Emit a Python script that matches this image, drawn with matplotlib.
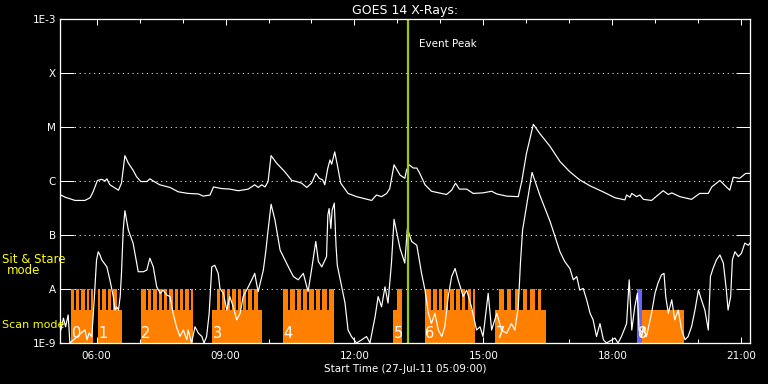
import matplotlib

matplotlib.use("Agg")
import matplotlib.pyplot as plt
import numpy as np
from matplotlib.ticker import FixedFormatter, FixedLocator, NullLocator

# GOES 14 X-ray flux, 27-Jul-2011. Time in hours UT, flux as log10(W m^-2).
long_t = [5.17, 5.27, 5.50, 5.73, 5.85, 5.92, 6.02, 6.12, 6.20, 6.24, 6.31, 6.51,
          6.58, 6.66, 6.74, 6.85, 6.93, 7.03, 7.17, 7.24, 7.36, 7.47, 7.71, 7.90,
          8.13, 8.37, 8.48, 8.64, 8.72, 8.91, 9.10, 9.30, 9.53, 9.68, 9.76, 9.84,
          9.92, 9.99, 10.06, 10.19, 10.38, 10.54, 10.65, 10.77, 10.89, 11.00, 11.10,
          11.18, 11.26, 11.31, 11.38, 11.43, 11.47, 11.54, 11.60, 11.68, 11.85, 12.05,
          12.40, 12.51, 12.63, 12.75, 12.82, 12.92, 13.06, 13.17, 13.21, 13.27, 13.37,
          13.45, 13.52, 13.64, 13.79, 14.14, 14.26, 14.35, 14.44, 14.61, 14.76, 14.99,
          15.19, 15.31, 15.54, 15.81, 15.89, 16.00, 16.16, 16.31, 16.55, 16.78, 17.01,
          17.24, 17.48, 17.78, 18.06, 18.29, 18.33, 18.41, 18.45, 18.56, 18.64, 18.72,
          18.91, 19.06, 19.18, 19.30, 19.38, 19.57, 19.84, 20.03, 20.23, 20.31, 20.50,
          20.65, 20.73, 20.81, 20.96, 21.10, 21.20]
long_logf = [-6.26, -6.30, -6.36, -6.36, -6.31, -6.20, -5.99, -5.97, -6.00, -5.96, -6.07,
             -6.17, -6.04, -5.53, -5.67, -5.80, -5.92, -6.01, -6.01, -5.96, -6.02, -6.07,
             -6.12, -6.20, -6.23, -6.24, -6.28, -6.26, -6.11, -6.14, -6.15, -6.18, -6.15,
             -6.07, -6.12, -6.07, -6.11, -6.01, -5.53, -5.67, -5.83, -5.99, -6.01, -6.04,
             -6.12, -6.04, -5.86, -5.95, -5.98, -6.07, -5.76, -5.61, -5.69, -5.46, -5.70,
             -6.04, -6.23, -6.29, -6.36, -6.26, -6.29, -6.23, -6.14, -5.70, -5.89, -5.95,
             -5.80, -5.70, -5.76, -5.76, -5.86, -6.07, -6.19, -6.25, -6.17, -6.04, -6.15,
             -6.15, -6.23, -6.22, -6.19, -6.24, -6.28, -6.29, -6.01, -5.49, -4.95, -5.12,
             -5.36, -5.64, -5.83, -5.98, -6.09, -6.20, -6.31, -6.35, -6.26, -6.30, -6.23,
             -6.29, -6.26, -6.34, -6.36, -6.26, -6.18, -6.25, -6.22, -6.29, -6.34, -6.23,
             -6.23, -6.11, -5.99, -6.11, -6.17, -5.93, -5.95, -5.86, -5.86]

short_t = [5.17, 5.23, 5.28, 5.34, 5.38, 5.65, 5.73, 5.78, 5.83, 5.89, 5.95, 6.00,
           6.04, 6.08, 6.12, 6.24, 6.31, 6.39, 6.43, 6.47, 6.51, 6.55, 6.58, 6.62,
           6.66, 6.74, 6.85, 6.97, 7.09, 7.17, 7.24, 7.32, 7.40, 7.48, 7.55, 7.63,
           7.71, 7.78, 7.86, 7.94, 8.02, 8.10, 8.13, 8.21, 8.29, 8.37, 8.45, 8.50,
           8.56, 8.62, 8.68, 8.75, 8.83, 8.87, 8.95, 9.03, 9.10, 9.18, 9.26, 9.34,
           9.41, 9.53, 9.61, 9.68, 9.72, 9.76, 9.88, 9.94, 9.99, 10.06, 10.15, 10.27,
           10.42, 10.50, 10.58, 10.69, 10.81, 10.92, 11.00, 11.10, 11.16, 11.24, 11.35,
           11.38, 11.41, 11.45, 11.48, 11.53, 11.57, 11.60, 11.78, 11.85, 11.93, 12.05,
           12.17, 12.28, 12.36, 12.48, 12.55, 12.63, 12.71, 12.78, 12.86, 12.92, 13.06,
           13.17, 13.23, 13.33, 13.45, 13.56, 13.64, 13.72, 13.79, 13.87, 13.95, 14.03,
           14.10, 14.18, 14.26, 14.34, 14.41, 14.53, 14.61, 14.72, 14.84, 14.92, 14.99,
           15.11, 15.19, 15.31, 15.42, 15.54, 15.65, 15.73, 15.81, 15.86, 15.91, 16.13,
           16.31, 16.55, 16.78, 16.89, 17.01, 17.09, 17.17, 17.24, 17.32, 17.40, 17.48,
           17.55, 17.63, 17.71, 17.79, 17.86, 18.06, 18.13, 18.21, 18.33, 18.39, 18.45,
           18.52, 18.58, 18.62, 18.68, 18.72, 18.79, 18.91, 18.99, 19.06, 19.14, 19.20,
           19.24, 19.30, 19.38, 19.45, 19.53, 19.61, 19.69, 19.76, 19.84, 19.92, 20.00,
           20.07, 20.15, 20.23, 20.28, 20.34, 20.42, 20.50, 20.58, 20.65, 20.69, 20.75,
           20.79, 20.85, 20.93, 21.00, 21.08, 21.16, 21.20]
short_logf = [-8.76, -8.54, -8.70, -8.48, -9.00, -8.81, -8.76, -8.94, -8.81, -8.89, -8.14,
              -7.46, -7.31, -7.37, -7.46, -7.59, -7.83, -8.14, -8.39, -8.33, -8.39, -8.14,
              -7.71, -6.91, -6.55, -6.91, -7.15, -7.68, -7.68, -7.65, -7.43, -7.59, -7.96,
              -8.08, -8.02, -8.11, -8.14, -8.45, -8.70, -8.88, -8.76, -8.94, -8.76, -9.00,
              -8.70, -8.82, -8.88, -9.00, -8.88, -8.45, -7.59, -7.56, -7.71, -7.99, -8.08,
              -8.39, -8.14, -8.33, -8.57, -8.45, -8.14, -7.96, -7.83, -7.71, -7.89, -8.05,
              -7.65, -7.28, -6.91, -6.43, -6.72, -7.28, -7.52, -7.65, -7.77, -7.83, -7.71,
              -8.05, -7.65, -7.12, -7.49, -7.59, -7.40, -6.63, -6.51, -6.88, -6.54, -6.41,
              -7.19, -7.56, -8.26, -8.76, -8.88, -9.00, -8.94, -8.88, -9.00, -8.51, -8.14,
              -8.33, -7.96, -8.26, -7.52, -6.71, -7.25, -7.52, -6.88, -7.12, -7.19, -7.71,
              -8.02, -8.45, -8.64, -8.45, -8.76, -8.88, -8.70, -8.14, -7.77, -7.62, -7.83,
              -8.14, -8.02, -8.33, -8.76, -8.70, -8.88, -8.08, -8.76, -8.45, -8.76, -8.82,
              -8.64, -8.76, -8.33, -7.52, -6.91, -5.84, -6.26, -6.75, -7.31, -7.49, -7.62,
              -7.83, -7.77, -8.02, -7.99, -8.20, -8.45, -8.57, -8.88, -8.64, -8.94, -9.00,
              -8.91, -9.00, -8.88, -8.64, -7.83, -8.76, -8.33, -8.08, -8.76, -8.88, -8.70,
              -8.88, -8.45, -8.08, -7.89, -7.74, -7.71, -8.14, -8.45, -8.20, -8.57, -8.39,
              -8.76, -8.94, -8.88, -8.70, -8.39, -8.02, -8.20, -8.39, -8.76, -7.77, -7.62,
              -7.46, -7.37, -7.52, -8.02, -8.39, -8.14, -7.46, -7.31, -7.40, -7.34, -7.15,
              -7.19, -7.15]

# observing blocks: scan mode spans and the sit & stare intervals inside them
scan_start = [5.41, 6.03, 7.03, 8.69, 10.34, 12.90, 13.64, 15.27, 18.65]
scan_end = [5.92, 6.59, 8.25, 9.85, 11.52, 13.11, 14.80, 16.45, 19.67]
stare_start = [5.406, 5.522, 5.645, 5.770, 5.878,
               6.027, 6.134, 6.259, 6.383,
               7.034, 7.197, 7.320, 7.445, 7.569, 7.692, 7.817, 7.941, 8.064, 8.190,
               8.794, 8.910, 9.034, 9.157, 9.282, 9.406, 9.529, 9.655,
               10.336, 10.506, 10.655, 10.801, 10.948, 11.103, 11.250, 11.399,
               12.98,
               13.64, 13.82, 13.96, 14.09, 14.23, 14.36, 14.50, 14.63, 14.76,
               15.36, 15.55, 15.73, 15.92, 16.09, 16.26]
stare_end = [5.476, 5.599, 5.724, 5.831, 5.924,
             6.087, 6.213, 6.336, 6.469,
             7.150, 7.273, 7.399, 7.522, 7.645, 7.771, 7.894, 8.017, 8.143, 8.250,
             8.864, 8.987, 9.110, 9.236, 9.359, 9.483, 9.608, 9.748,
             10.459, 10.608, 10.755, 10.901, 11.057, 11.203, 11.352, 11.523,
             13.11,
             13.77, 13.91, 14.04, 14.18, 14.31, 14.45, 14.58, 14.72, 14.80,
             15.47, 15.64, 15.82, 16.01, 16.20, 16.35]
block_names = ["0", "1", "2", "3", "4", "5", "6", "7", "8"]
block_label_t = [5.42, 6.04, 7.04, 8.70, 10.35, 12.91, 13.65, 15.28, 18.60]
blue_start, blue_end = 18.58, 18.68

event_peak = 13.24
SCAN_TOP = -8.39
STARE_TOP = -8.0
FLOOR = 1e-9

level_vals = [1e-9, 1e-8, 1e-7, 1e-6, 1e-5, 1e-4, 1e-3]
level_names = ["1E-9", "A", "B", "C", "M", "X", "1E-3"]
hour_ticks = [6, 9, 12, 15, 18, 21]
hour_labels = ["06:00", "09:00", "12:00", "15:00", "18:00", "21:00"]

ORANGE = "#ff8000"
BLUE = "#6464ff"
GREEN = "#9acd00"
YELLOW = "#ffff00"
PX = 0.72  # one pixel in points at dpi 100

fig = plt.figure(figsize=(7.68, 3.84), dpi=100, facecolor="black")
ax = fig.add_axes([60 / 768, 41 / 384, 690 / 768, 324 / 384], facecolor="black")
ax.set_yscale("log")
ax.set_xlim(5.15, 21.20)
ax.set_ylim(1e-9, 1e-3)
ax.set_axisbelow(True)

s0 = np.array(scan_start)
ax.bar(s0, 10 ** SCAN_TOP - FLOOR, width=np.array(scan_end) - s0, bottom=FLOOR,
       align="edge", color=ORANGE, linewidth=0, zorder=2)
t0 = np.array(stare_start)
ax.bar(t0, 10 ** STARE_TOP - FLOOR, width=np.array(stare_end) - t0, bottom=FLOOR,
       align="edge", color=ORANGE, linewidth=0, zorder=2)
ax.bar([blue_start], [10 ** STARE_TOP - FLOOR], width=blue_end - blue_start, bottom=FLOOR,
       align="edge", color=BLUE, linewidth=0, zorder=2.5)

for name, t in zip(block_names, block_label_t):
    ax.text(t, 10 ** -8.91, name, color="white", fontsize=10.5, va="baseline",
            ha="left", zorder=3)

ax.plot(long_t, 10 ** np.array(long_logf), color="white", lw=PX * 1.2, zorder=3)
ax.plot(short_t, np.clip(10 ** np.array(short_logf), FLOOR, None), color="white",
        lw=PX * 1.2, zorder=3)

ax.axvline(event_peak, color=GREEN, lw=1.6, zorder=4)
ax.text(event_peak + 0.25, 0.913, "Event Peak", color="white", fontsize=7.5,
        va="baseline", transform=ax.get_xaxis_transform())

ax.yaxis.set_major_locator(FixedLocator(level_vals))
ax.yaxis.set_major_formatter(FixedFormatter(level_names))
ax.yaxis.set_minor_locator(NullLocator())
ax.tick_params(axis="y", which="major", direction="in", length=14 * PX, width=PX,
               colors="white", left=True, right=True, labelsize=7.5, pad=3)
ax.set_xticks(hour_ticks, labels=hour_labels)
ax.set_xticks(range(6, 22), minor=True)
ax.tick_params(axis="x", which="both", direction="in", top=True, bottom=True,
               colors="white", width=PX, labelsize=7.5, pad=6)
ax.tick_params(axis="x", which="major", length=6 * PX)
ax.tick_params(axis="x", which="minor", length=4 * PX)
ax.grid(axis="y", which="major", color="white", lw=PX, linestyle=(0, (1, 3.8)))
for sp in ax.spines.values():
    sp.set_color("white")
    sp.set_linewidth(PX * 1.3)
    sp.set_zorder(5)

fig.text(405 / 768, 1 - 14 / 384, "GOES 14 X-Rays:", color="white", fontsize=9,
         ha="center", va="baseline")
fig.text(405 / 768, 1 - 372 / 384, "Start Time (27-Jul-11 05:09:00)", color="white",
         fontsize=7.5, ha="center", va="baseline")
fig.text(34 / 768, 1 - 263 / 384, "Sit & Stare", color=YELLOW, fontsize=8.5,
         ha="center", va="baseline", zorder=6)
fig.text(24 / 768, 1 - 274.5 / 384, "mode", color=YELLOW, fontsize=8.5,
         ha="center", va="baseline")
fig.text(2 / 768, 1 - 328 / 384, "Scan mode", color=YELLOW, fontsize=8,
         ha="left", va="baseline")

fig.savefig("out.png", dpi=100, facecolor="black")
